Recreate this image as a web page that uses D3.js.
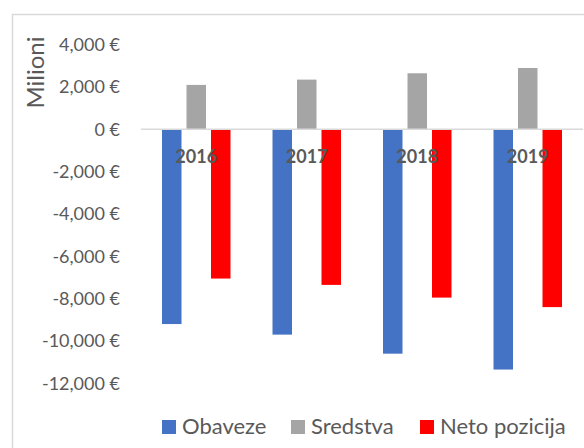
<!DOCTYPE html>
<html>
<head>
<meta charset="utf-8">
<script src="https://cdn.jsdelivr.net/npm/d3@7"></script>
<style>
  body { margin: 0; background: #fff; }
  svg { display: block; font-family: Lato, "Open Sans", sans-serif; }
</style>
</head>
<body>
<div id="chart"></div>
<script>
const width = 584;
const height = 448;

// Data
const years = ["2016", "2017", "2018", "2019"];
const seriesNames = ["Obaveze", "Sredstva", "Neto pozicija"];
const obaveze = [-9200, -9700, -10600, -11350];
const sredstva = [2100, 2350, 2650, 2900];
const netoPozicija = [-7050, -7350, -7950, -8400];
const yTicks = [4000, 2000, 0, -2000, -4000, -6000, -8000, -10000, -12000];

const colors = ["#4472C4", "#A5A5A5", "#FF0000"];
const seriesValues = [obaveze, sredstva, netoPozicija];

const svg = d3.select('#chart')
  .append('svg')
  .attr('width', width)
  .attr('height', height);

// Chart frame (runs past the right and bottom edges)
svg.append('rect')
  .attr('x', 12.5).attr('y', 14.5)
  .attr('width', 600).attr('height', 460)
  .attr('fill', 'none')
  .attr('stroke', '#D9D9D9')
  .attr('stroke-width', 1.5);

const plot = { left: 141, right: 583 };

const x = d3.scaleBand()
  .domain(years)
  .range([plot.left, plot.right]);

// inner band for the three bars in a group
const barW = 19.5, barGap = 5;
const groupW = barW * 3 + barGap * 2;

const y = d3.scaleLinear()
  .domain([-12000, 4000])
  .range([383.3, 44.7]);

// Y axis labels (hyphen minus, like the original)
const fmt = d3.format(",");
const yAxis = d3.axisLeft(y)
  .tickValues(yTicks)
  .tickSize(0)
  .tickPadding(0)
  .tickFormat(d => fmt(d).replace("\u2212", "-") + " €");

svg.append('g')
  .attr('transform', 'translate(120,0)')
  .call(yAxis)
  .call(g => g.select('.domain').remove())
  .selectAll('text')
  .attr('fill', '#595959')
  .attr('font-size', 18)
  .attr('font-family', 'Lato, sans-serif');

// Axis title
svg.append('text')
  .attr('transform', `translate(44,72.5) rotate(-90)`)
  .attr('text-anchor', 'middle')
  .attr('fill', '#595959')
  .attr('font-size', 24)
  .text('Milioni');

// Bars
years.forEach((yr, i) => {
  const gx = x(yr) + x.bandwidth() / 2 - groupW / 2;
  seriesValues.forEach((vals, s) => {
    const v = vals[i];
    svg.append('rect')
      .attr('x', gx + s * (barW + barGap))
      .attr('y', Math.min(y(v), y(0)))
      .attr('width', barW)
      .attr('height', Math.abs(y(v) - y(0)))
      .attr('fill', colors[s]);
  });
});

// Zero line
svg.append('line')
  .attr('x1', plot.left).attr('x2', plot.right)
  .attr('y1', y(0)).attr('y2', y(0))
  .attr('stroke', '#D9D9D9')
  .attr('stroke-width', 1.5);

// Category labels (drawn over the bars)
svg.append('g')
  .selectAll('text')
  .data(years)
  .join('text')
  .attr('x', d => x(d) + x.bandwidth() / 2)
  .attr('y', 157)
  .attr('dy', '0.35em')
  .attr('text-anchor', 'middle')
  .attr('font-weight', 'bold')
  .attr('font-size', 18)
  .attr('fill', '#595959')
  .text(d => d);

// Legend
const legendX = [162, 291, 420];
const legend = svg.append('g')
  .selectAll('g')
  .data(seriesNames)
  .join('g')
  .attr('transform', (d, i) => `translate(${legendX[i]},426.5)`);

legend.append('rect')
  .attr('x', 0).attr('y', -6.5)
  .attr('width', 14).attr('height', 14)
  .attr('fill', (d, i) => colors[i]);

legend.append('text')
  .attr('x', 20)
  .attr('dy', '0.35em')
  .attr('font-size', 22)
  .attr('fill', '#595959')
  .text(d => d);
</script>
</body>
</html>
